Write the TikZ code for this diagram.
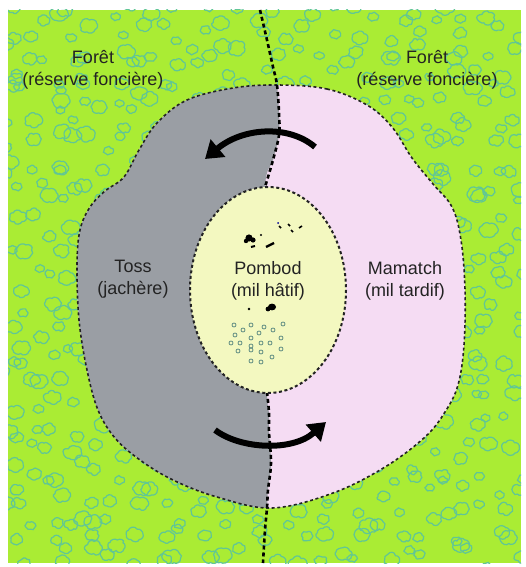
\documentclass[tikz,border=0pt]{standalone}
\usepackage{fontspec}
\setmainfont{Liberation Sans}
\usetikzlibrary{arrows.meta}
\definecolor{bggreen}{RGB}{170,236,52}
\definecolor{cloudc}{RGB}{96,198,150}
\definecolor{tossgray}{RGB}{154,158,164}
\definecolor{mampink}{RGB}{245,220,243}
\definecolor{pomyellow}{RGB}{243,248,192}
\definecolor{txt}{RGB}{35,35,35}
\definecolor{seedc}{RGB}{95,140,130}
\tikzset{
  cloudline/.style={draw=cloudc, line width=1.2pt},
  fieldborder/.style={draw=txt, line width=1.6pt, dash pattern=on 3pt off 2.6pt},
  pomborder/.style={draw=txt, line width=2pt, dash pattern=on 3pt off 2.6pt},
  divline/.style={draw=black, line width=2.6pt, dash pattern=on 4pt off 3pt},
  lbl/.style={align=center, inner sep=0pt, text=txt, font=\fontsize{18}{22}\selectfont},
  rotarrow/.style={draw=black, line width=6pt, -{Triangle[length=17pt,width=22pt]}},
  seedring/.style={draw=seedc, line width=0.8pt}
}
\begin{document}
\begin{tikzpicture}[x=1pt,y=-1pt]
\useasboundingbox (0,0) rectangle (525,567);
\fill[white] (0,0) rectangle (525,567);
% forest background
\fill[bggreen] (8,10) rectangle (521,563);
\pgfmathsetseed{11}
\begin{scope}
\clip (8,10) rectangle (521,563);
\foreach \i in {0,...,23} {
  \foreach \j in {0,...,25} {
    \pgfmathsetmacro{\cx}{6 + \i*22 + 12*rand}
    \pgfmathsetmacro{\cy}{8 + \j*22 + 12*rand}
    \pgfmathsetmacro{\s}{4.5+4.5*rnd}
    \pgfmathsetmacro{\ph}{60*rnd}
    \draw[cloudline] ({\cx+\s*cos(\ph)},{\cy+0.72*\s*sin(\ph)})
      \foreach \k in {1,...,5} {
        to[bend left=65] ({\cx+\s*(0.8+0.35*rnd)*cos(\ph+60*\k)},{\cy+0.72*\s*(0.8+0.35*rnd)*sin(\ph+60*\k)})
      } to[bend left=65] ({\cx+\s*cos(\ph)},{\cy+0.72*\s*sin(\ph)});
  }
}
\end{scope}
% field blob
\def\blob{plot[smooth cycle, tension=0.6] coordinates {
 (277,85) (327,89) (367,105) (392,127) (412,158) (433,184) (452,207) (461,240)
 (465,290) (464,345) (458,385) (445,412) (425,437) (385,467) (333,493) (272,508)
 (217,497) (173,480) (140,460) (115,438) (98,410) (87,370) (79,320) (77,265)
 (80,230) (90,207) (105,191) (124,177) (139,150) (157,123) (187,100) (233,88)}}
\fill[mampink] \blob;
\begin{scope}
\clip plot[smooth, tension=0.6] coordinates {(260,10) (267,40) (273,67) (277,85) (279,113)
  (279,135) (273,160) (265,187) (265,290) (267,392) (269,413) (269,432) (271,463)
  (268,490) (267,508) (265,530) (263,567)} -- (0,567) -- (0,0) -- cycle;
\fill[tossgray] \blob;
\end{scope}
\path[fieldborder] \blob;
% divider
\draw[divline] plot[smooth, tension=0.6] coordinates {(260,10) (267,40) (273,67) (277,85)
  (279,113) (279,135) (273,160) (265,187)};
\draw[divline] plot[smooth, tension=0.6] coordinates {(267,392) (269,413) (269,432)
  (271,463) (268,490) (267,508) (265,530) (263,563)};
% pombod field
\fill[pomyellow] (268,290) ellipse (78 and 103);
\path[pomborder] (268,290) ellipse (78 and 103);
% seeds
\fill[black] (249,238) circle (3.6);
\fill[black] (253,240) circle (2.6);
\fill[black] (246,241) circle (2.2);
\fill[black] (261,235) circle (1.2);
\draw[black, line width=2pt] (251,247) -- (255,246);
\draw[black, line width=2.4pt] (266,247) -- (274,243);
\fill[blue!60!black] (278,223) circle (1);
\draw[black, line width=1.6pt] (279,226) -- (281,228);
\draw[black, line width=1.6pt] (288,224) -- (290,226);
\draw[black, line width=1.6pt] (291,230) -- (293,232);
\draw[black, line width=1.6pt] (299,228) -- (302,226);
\fill[black] (272,307) ellipse (4 and 3.4);
\fill[black] (268,309) circle (2.4);
\fill[black] (249,309) circle (1.3);
\foreach \p in {(234,325),(243,330),(251,325),(264,327),(273,330),(283,324),
  (235,335),(251,338),(259,333),(281,338),
  (231,343),(240,343),(251,346),(261,343),(270,343),
  (238,351),(251,350),(261,352),(281,349),
  (272,357),(251,361),(261,362)}
  \draw[seedring] \p circle (2);
% rotation arrows
\coordinate (topS) at (315,147);
\coordinate (topE) at (205,159);
\coordinate (botS) at (215,430);
\coordinate (botE) at (326,422);
\draw[rotarrow] (topS) .. controls (288,124) and (242,128) .. (topE);
\draw[rotarrow] (botS) .. controls (240,449) and (292,452) .. (botE);
% labels
\node[lbl] (foretL) at (93,69.5) {Forêt\\(réserve foncière)};
\node[lbl] (foretR) at (427,69.5) {Forêt\\(réserve foncière)};
\node[lbl] (toss) at (133,279) {Toss\\(jachère)};
\node[lbl] (pombod) at (268,280.5) {Pombod\\(mil hâtif)};
\node[lbl] (mamatch) at (405,280.5) {Mamatch\\(mil tardif)};
\end{tikzpicture}
\end{document}
